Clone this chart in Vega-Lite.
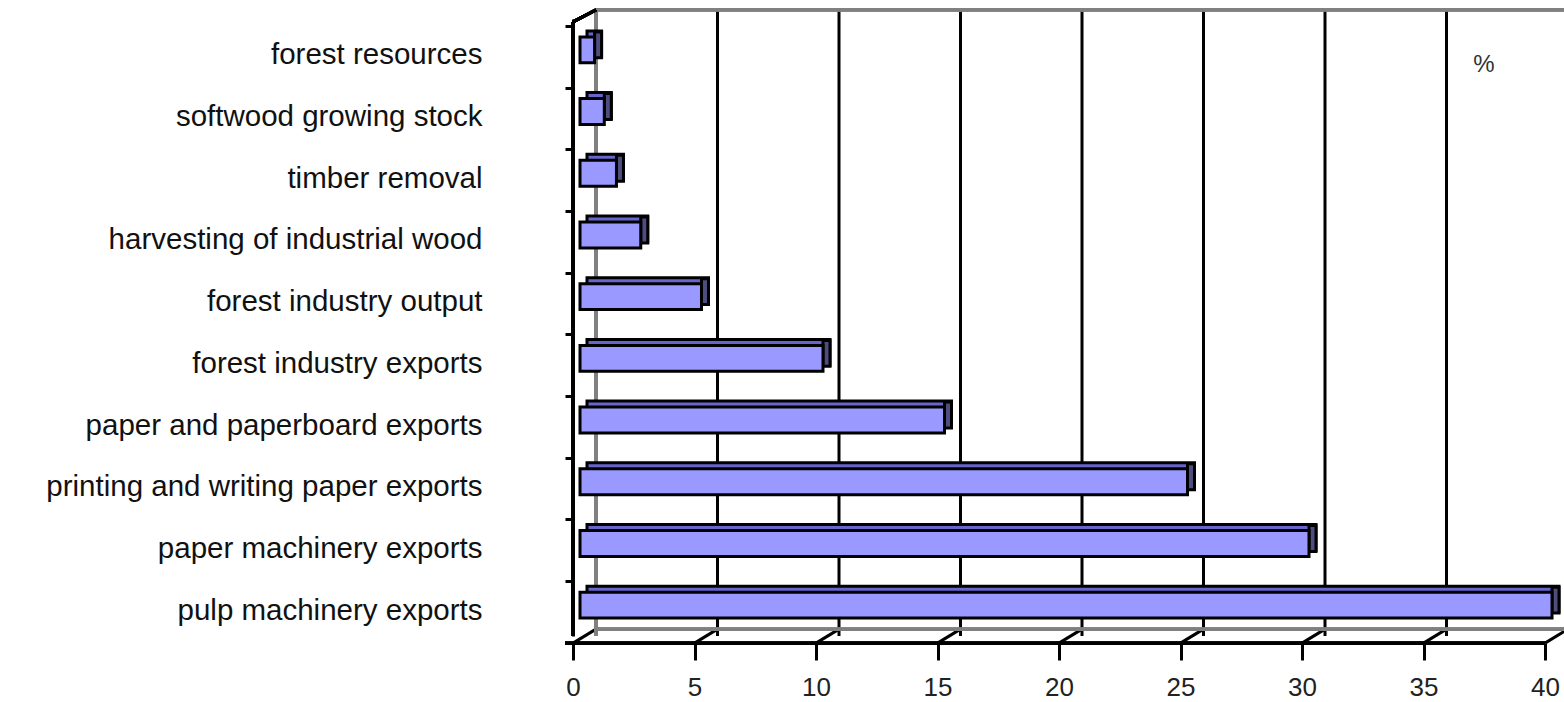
{
  "$schema": "https://vega.github.io/schema/vega-lite/v6.json",
  "autosize": {"type": "none"},
  "width": 972,
  "height": 617,
  "padding": {"left": 580, "top": 19, "right": 12, "bottom": 66},
  "background": "white",
  "config": {"view": {"stroke": null}, "font": "Liberation Sans"},
  "data": {"values": [
    {"item": "forest resources", "pct": 0.6},
    {"item": "softwood growing stock", "pct": 1.0},
    {"item": "timber removal", "pct": 1.5},
    {"item": "harvesting of industrial wood", "pct": 2.5},
    {"item": "forest industry output", "pct": 5},
    {"item": "forest industry exports", "pct": 10},
    {"item": "paper and paperboard exports", "pct": 15},
    {"item": "printing and writing paper exports", "pct": 25},
    {"item": "paper machinery exports", "pct": 30},
    {"item": "pulp machinery exports", "pct": 40}
  ]},
  "layer": [
    {
      "data": {"values": [{"v": 5}, {"v": 10}, {"v": 15}, {"v": 20}, {"v": 25}, {"v": 30}, {"v": 35}]},
      "mark": {"type": "rule", "stroke": "black", "strokeWidth": 3, "xOffset": 16, "yOffset": -9, "y2Offset": -9},
      "encoding": {"x": {"field": "v", "type": "quantitative"}}
    },
    {
      "data": {"values": [{"v": 0}, {"v": 5}, {"v": 10}, {"v": 15}, {"v": 20}, {"v": 25}, {"v": 30}, {"v": 35}, {"v": 40}]},
      "mark": {"type": "rule", "stroke": "black", "strokeWidth": 3, "xOffset": -7, "x2Offset": 16, "yOffset": 38, "y2Offset": 24},
      "encoding": {
        "x": {"field": "v", "type": "quantitative"}, "x2": {"field": "v"},
        "y": {"datum": "pulp machinery exports", "type": "nominal"}, "y2": {"datum": "pulp machinery exports"}
      }
    },
    {
      "mark": {"type": "rule", "stroke": "#808080", "strokeWidth": 3, "xOffset": 16, "yOffset": -9, "y2Offset": -9},
      "encoding": {"x": {"datum": 0, "type": "quantitative"}}
    },
    {
      "mark": {"type": "rule", "stroke": "#808080", "strokeWidth": 3, "xOffset": 16, "x2Offset": 30, "yOffset": -40},
      "encoding": {"x": {"datum": 0, "type": "quantitative"}, "x2": {"datum": 40}, "y": {"datum": "forest resources", "type": "nominal"}}
    },
    {
      "mark": {"type": "rule", "stroke": "#808080", "strokeWidth": 3, "xOffset": 16, "x2Offset": 30, "yOffset": 24},
      "encoding": {"x": {"datum": 0, "type": "quantitative"}, "x2": {"datum": 40}, "y": {"datum": "pulp machinery exports", "type": "nominal"}}
    },
    {
      "mark": {"type": "rule", "stroke": "black", "strokeWidth": 3, "xOffset": -7, "x2Offset": 16, "yOffset": -28, "y2Offset": -40},
      "encoding": {
        "x": {"datum": 0, "type": "quantitative"}, "x2": {"datum": 0},
        "y": {"datum": "forest resources", "type": "nominal"}, "y2": {"datum": "forest resources"}
      }
    },
    {
      "mark": {"type": "rule", "stroke": "black", "strokeWidth": 3, "xOffset": -7, "yOffset": 3, "y2Offset": 24},
      "encoding": {"x": {"datum": 0, "type": "quantitative"}}
    },
    {
      "mark": {"type": "rule", "stroke": "black", "strokeWidth": 3, "xOffset": -15, "x2Offset": -7, "yOffset": 38},
      "encoding": {"x": {"datum": 0, "type": "quantitative"}, "x2": {"datum": 40}, "y": {"datum": "pulp machinery exports", "type": "nominal"}}
    },
    {
      "mark": {"type": "bar", "fill": "#6666CC", "stroke": "black", "strokeWidth": 3, "xOffset": 7, "yOffset": -6, "y2Offset": -6, "x2Offset": 7},
      "encoding": {"x": {"field": "pct", "type": "quantitative"}, "y": {"field": "item", "type": "nominal"}}
    },
    {
      "mark": {"type": "bar", "fill": "#4D4D80", "stroke": "black", "strokeWidth": 3, "x2Offset": 7, "yOffset": -5, "y2Offset": -5},
      "encoding": {"x": {"field": "pct", "type": "quantitative"}, "x2": {"field": "pct"}, "y": {"field": "item", "type": "nominal"}}
    },
    {
      "mark": {"type": "bar", "fill": "#9999FF", "stroke": "black", "strokeWidth": 3},
      "encoding": {
        "y": {
          "field": "item", "type": "nominal", "title": null,
          "scale": {
            "domain": ["forest resources", "softwood growing stock", "timber removal", "harvesting of industrial wood", "forest industry output", "forest industry exports", "paper and paperboard exports", "printing and writing paper exports", "paper machinery exports", "pulp machinery exports"],
            "paddingInner": 0.58, "paddingOuter": 0.29
          },
          "axis": {
            "orient": "left", "offset": 7, "domainColor": "black", "domainWidth": 3,
            "tickColor": "black", "tickWidth": 3, "tickSize": 8, "tickOffset": -24, "labelOffset": 29,
            "labelPadding": 83, "labelFont": "Liberation Sans", "labelFontSize": 29.5, "labelColor": "#111",
            "labelLimit": 600, "grid": false
          }
        },
        "x": {
          "field": "pct", "type": "quantitative", "title": null,
          "scale": {"domain": [0, 40], "nice": false, "zero": true},
          "axis": {
            "orient": "bottom", "offset": 7, "values": [0, 5, 10, 15, 20, 25, 30, 35, 40],
            "domain": false, "tickColor": "black", "tickWidth": 3, "tickSize": 17,
            "tickOffset": -7, "labelPadding": 14, "labelFont": "Liberation Sans", "labelFontSize": 26,
            "labelColor": "#222", "grid": false, "labelFlush": false
          }
        }
      }
    },
    {
      "data": {"values": [{"label": "%", "pos": 37.2, "row": "forest resources"}]},
      "mark": {"type": "text", "fontSize": 24, "fill": "#333", "yOffset": 15, "align": "center", "baseline": "middle"},
      "encoding": {
        "text": {"field": "label", "type": "nominal"},
        "x": {"field": "pos", "type": "quantitative"},
        "y": {"field": "row", "type": "nominal"}
      }
    }
  ]
}
